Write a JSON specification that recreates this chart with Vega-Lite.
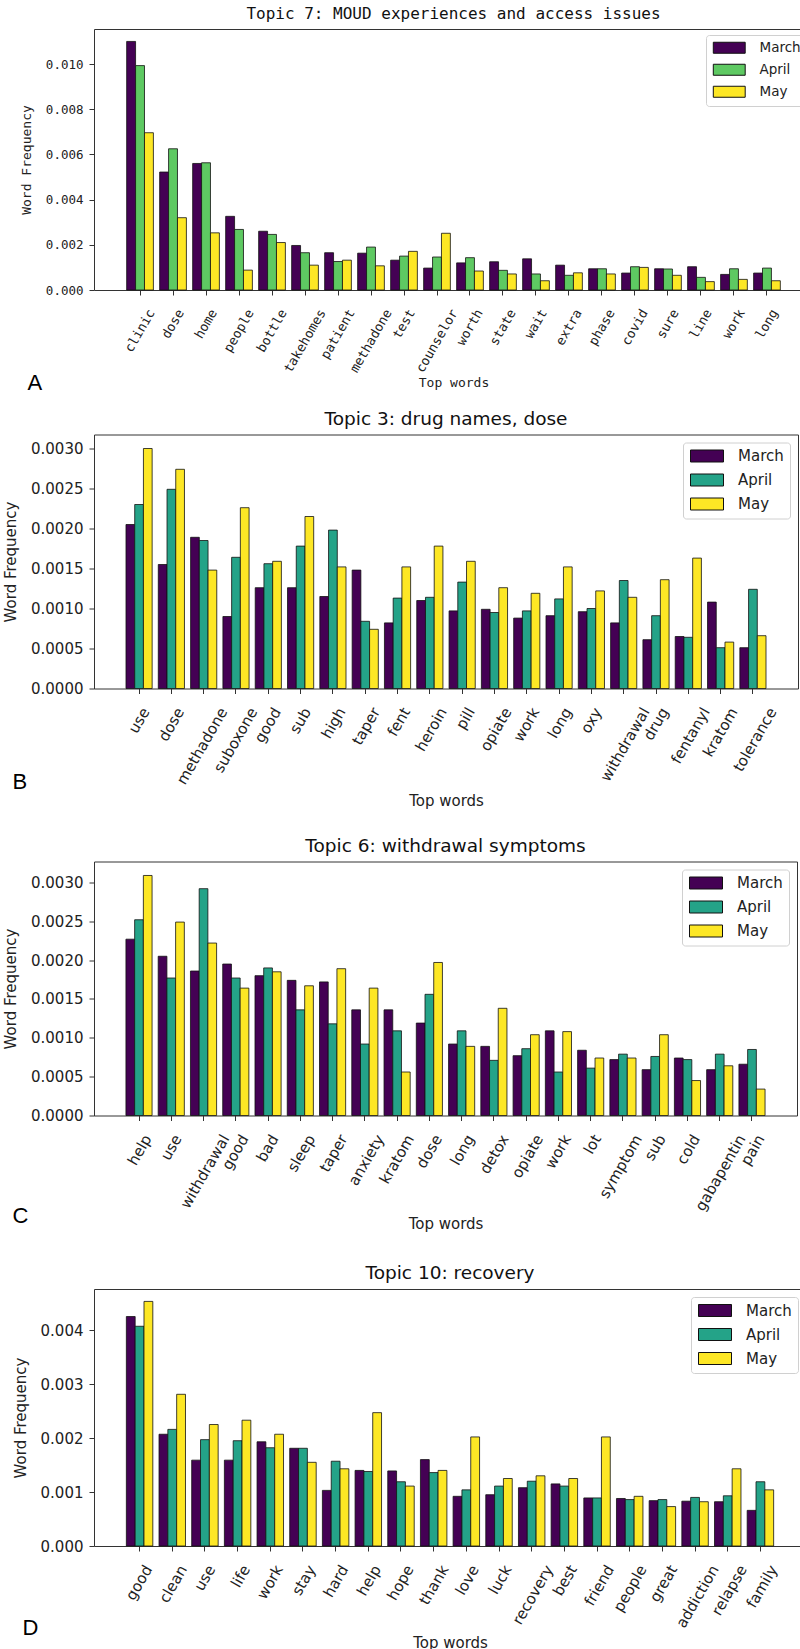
{
  "$schema": "https://vega.github.io/schema/vega-lite/v6.json",
  "padding": {"left": 2, "top": 5, "right": 0, "bottom": 0},
  "spacing": 27.5,
  "config": {
    "view": {"stroke": "#333", "strokeWidth": 1},
    "axis": {"grid": false, "domain": false, "tickColor": "#333", "tickSize": 5, "labelColor": "#222", "titleColor": "#222", "titleFontWeight": "normal"},
    "legend": {"title": null, "orient": "top-right", "symbolStrokeColor": "#111", "symbolStrokeWidth": 1, "symbolOpacity": 1, "strokeColor": "#d0d0d0", "fillColor": "#ffffff", "cornerRadius": 3, "padding": 6, "labelColor": "#222"}
  },
  "resolve": {"scale": {"color": "independent", "x": "independent", "y": "independent", "xOffset": "independent"}, "legend": {"color": "independent"}},
  "vconcat": [
    {
      "spacing": 15.5,
      "resolve": {"scale": {"color": "independent", "x": "independent", "y": "independent", "xOffset": "independent"}, "legend": {"color": "independent"}},
      "vconcat": [
        {
          "title": {"text": "A", "orient": "bottom", "anchor": "start", "frame": "bounds", "offset": -17, "dx": 8, "font": "Liberation Sans", "fontSize": 22, "fontWeight": "normal", "color": "#000"},
          "resolve": {"scale": {"color": "independent", "x": "independent", "y": "independent", "xOffset": "independent"}, "legend": {"color": "independent"}},
          "vconcat": [
            {
              "width": 719, "height": 261,
              "title": {"text": "Topic 7: MOUD experiences and access issues", "font": "DejaVu Sans Mono", "fontSize": 16, "fontWeight": "normal", "frame": "group", "anchor": "middle", "offset": 7, "color": "#111"},
              "data": {"values": [
                {"word":"clinic","month":"March","freq":0.0110},{"word":"clinic","month":"April","freq":0.00993},{"word":"clinic","month":"May","freq":0.00696},
                {"word":"dose","month":"March","freq":0.00522},{"word":"dose","month":"April","freq":0.00625},{"word":"dose","month":"May","freq":0.0032},
                {"word":"home","month":"March","freq":0.0056},{"word":"home","month":"April","freq":0.00563},{"word":"home","month":"May","freq":0.00253},
                {"word":"people","month":"March","freq":0.00326},{"word":"people","month":"April","freq":0.00268},{"word":"people","month":"May","freq":0.00088},
                {"word":"bottle","month":"March","freq":0.0026},{"word":"bottle","month":"April","freq":0.00246},{"word":"bottle","month":"May","freq":0.0021},
                {"word":"takehomes","month":"March","freq":0.00197},{"word":"takehomes","month":"April","freq":0.00165},{"word":"takehomes","month":"May","freq":0.0011},
                {"word":"patient","month":"March","freq":0.00165},{"word":"patient","month":"April","freq":0.00126},{"word":"patient","month":"May","freq":0.00132},
                {"word":"methadone","month":"March","freq":0.00163},{"word":"methadone","month":"April","freq":0.0019},{"word":"methadone","month":"May","freq":0.00107},
                {"word":"test","month":"March","freq":0.00132},{"word":"test","month":"April","freq":0.0015},{"word":"test","month":"May","freq":0.00171},
                {"word":"counselor","month":"March","freq":0.00097},{"word":"counselor","month":"April","freq":0.00146},{"word":"counselor","month":"May","freq":0.00251},
                {"word":"worth","month":"March","freq":0.0012},{"word":"worth","month":"April","freq":0.00143},{"word":"worth","month":"May","freq":0.00084},
                {"word":"state","month":"March","freq":0.00125},{"word":"state","month":"April","freq":0.00087},{"word":"state","month":"May","freq":0.00071},
                {"word":"wait","month":"March","freq":0.00138},{"word":"wait","month":"April","freq":0.00071},{"word":"wait","month":"May","freq":0.00041},
                {"word":"extra","month":"March","freq":0.0011},{"word":"extra","month":"April","freq":0.00065},{"word":"extra","month":"May","freq":0.00076},
                {"word":"phase","month":"March","freq":0.00094},{"word":"phase","month":"April","freq":0.00094},{"word":"phase","month":"May","freq":0.00071},
                {"word":"covid","month":"March","freq":0.00075},{"word":"covid","month":"April","freq":0.00103},{"word":"covid","month":"May","freq":0.001},
                {"word":"sure","month":"March","freq":0.00094},{"word":"sure","month":"April","freq":0.00093},{"word":"sure","month":"May","freq":0.00065},
                {"word":"line","month":"March","freq":0.00103},{"word":"line","month":"April","freq":0.00056},{"word":"line","month":"May","freq":0.00037},
                {"word":"work","month":"March","freq":0.00069},{"word":"work","month":"April","freq":0.00094},{"word":"work","month":"May","freq":0.00047},
                {"word":"long","month":"March","freq":0.00075},{"word":"long","month":"April","freq":0.00097},{"word":"long","month":"May","freq":0.00041}
              ]},
              "mark": {"type": "bar", "stroke": "#111", "strokeWidth": 0.8},
              "encoding": {
                "x": {"field": "word", "type": "nominal", "sort": null, "scale": {"paddingInner": 0.19, "paddingOuter": 0.99},
                  "axis": {"title": "Top words", "titleFont": "DejaVu Sans Mono", "titleFontSize": 13, "titlePadding": 0, "minExtent": 86, "maxExtent": 86, "labelFont": "DejaVu Sans Mono", "labelFontSize": 13, "labelAngle": -60, "labelAlign": "right", "labelBaseline": "middle", "labelPadding": 15, "labelOffset": {"expr": "length(datum.label)*1.96"}, "labelOverlap": false}},
                "xOffset": {"field": "month", "type": "nominal", "sort": ["March", "April", "May"], "scale": {"paddingInner": 0, "paddingOuter": 0}},
                "y": {"field": "freq", "type": "quantitative", "scale": {"domain": [0, 0.01155], "nice": false},
                  "axis": {"title": "Word Frequency", "values": [0, 0.002, 0.004, 0.006, 0.008, 0.010], "format": ".3f", "labelFont": "DejaVu Sans Mono", "labelFontSize": 12.5, "labelPadding": 6, "minExtent": 51, "maxExtent": 51, "titleFont": "DejaVu Sans Mono", "titleFontSize": 13, "titlePadding": 10}},
                "color": {"field": "month", "type": "nominal", "sort": ["March", "April", "May"], "scale": {"domain": ["March", "April", "May"], "range": ["#440154", "#5ec962", "#fde725"]},
                  "legend": {"orient": "top-right", "offset": 6, "symbolType": "M-2.9,-1H2.9V1H-2.9Z", "symbolSize": 121, "symbolOffset": 10.5, "labelFont": "DejaVu Sans", "labelFontSize": 13.5, "labelOffset": 23.5, "rowPadding": 6}}
              }
            }
          ]
        },
        {
          "title": {"text": "B", "orient": "bottom", "anchor": "start", "frame": "bounds", "offset": -37, "dx": 10, "font": "Liberation Sans", "fontSize": 22, "fontWeight": "normal", "color": "#000"},
          "resolve": {"scale": {"color": "independent", "x": "independent", "y": "independent", "xOffset": "independent"}, "legend": {"color": "independent"}},
          "vconcat": [
            {
              "width": 704, "height": 254,
              "title": {"text": "Topic 3: drug names, dose", "font": "DejaVu Sans", "fontSize": 18.5, "fontWeight": "normal", "frame": "group", "anchor": "middle", "offset": 6, "color": "#111"},
              "data": {"values": [
                {"word":"use","month":"March","freq":0.00205},{"word":"use","month":"April","freq":0.0023},{"word":"use","month":"May","freq":0.0030},
                {"word":"dose","month":"March","freq":0.00155},{"word":"dose","month":"April","freq":0.00249},{"word":"dose","month":"May","freq":0.00274},
                {"word":"methadone","month":"March","freq":0.00189},{"word":"methadone","month":"April","freq":0.00185},{"word":"methadone","month":"May","freq":0.00148},
                {"word":"suboxone","month":"March","freq":0.0009},{"word":"suboxone","month":"April","freq":0.00164},{"word":"suboxone","month":"May","freq":0.00226},
                {"word":"good","month":"March","freq":0.00126},{"word":"good","month":"April","freq":0.00156},{"word":"good","month":"May","freq":0.00159},
                {"word":"sub","month":"March","freq":0.00126},{"word":"sub","month":"April","freq":0.00178},{"word":"sub","month":"May","freq":0.00215},
                {"word":"high","month":"March","freq":0.00115},{"word":"high","month":"April","freq":0.00198},{"word":"high","month":"May","freq":0.00152},
                {"word":"taper","month":"March","freq":0.00148},{"word":"taper","month":"April","freq":0.00084},{"word":"taper","month":"May","freq":0.00074},
                {"word":"fent","month":"March","freq":0.00082},{"word":"fent","month":"April","freq":0.00113},{"word":"fent","month":"May","freq":0.00152},
                {"word":"heroin","month":"March","freq":0.0011},{"word":"heroin","month":"April","freq":0.00114},{"word":"heroin","month":"May","freq":0.00178},
                {"word":"pill","month":"March","freq":0.00097},{"word":"pill","month":"April","freq":0.00133},{"word":"pill","month":"May","freq":0.00159},
                {"word":"opiate","month":"March","freq":0.00099},{"word":"opiate","month":"April","freq":0.00095},{"word":"opiate","month":"May","freq":0.00126},
                {"word":"work","month":"March","freq":0.00088},{"word":"work","month":"April","freq":0.00097},{"word":"work","month":"May","freq":0.00119},
                {"word":"long","month":"March","freq":0.00091},{"word":"long","month":"April","freq":0.00112},{"word":"long","month":"May","freq":0.00152},
                {"word":"oxy","month":"March","freq":0.00096},{"word":"oxy","month":"April","freq":0.001},{"word":"oxy","month":"May","freq":0.00122},
                {"word":"withdrawal","month":"March","freq":0.00082},{"word":"withdrawal","month":"April","freq":0.00135},{"word":"withdrawal","month":"May","freq":0.00114},
                {"word":"drug","month":"March","freq":0.00061},{"word":"drug","month":"April","freq":0.00091},{"word":"drug","month":"May","freq":0.00136},
                {"word":"fentanyl","month":"March","freq":0.00065},{"word":"fentanyl","month":"April","freq":0.00064},{"word":"fentanyl","month":"May","freq":0.00163},
                {"word":"kratom","month":"March","freq":0.00108},{"word":"kratom","month":"April","freq":0.00051},{"word":"kratom","month":"May","freq":0.00058},
                {"word":"tolerance","month":"March","freq":0.00051},{"word":"tolerance","month":"April","freq":0.00124},{"word":"tolerance","month":"May","freq":0.00066}
              ]},
              "mark": {"type": "bar", "stroke": "#111", "strokeWidth": 0.8},
              "encoding": {
                "x": {"field": "word", "type": "nominal", "sort": null, "scale": {"paddingInner": 0.19, "paddingOuter": 0.99},
                  "axis": {"title": "Top words", "titleFont": "DejaVu Sans", "titleFontSize": 15, "titlePadding": 0, "minExtent": 105, "maxExtent": 105, "labelFont": "DejaVu Sans", "labelFontSize": 15, "labelAngle": -60, "labelAlign": "right", "labelBaseline": "middle", "labelPadding": 15, "labelOffset": {"expr": "length(datum.label)*2.2"}, "labelOverlap": false}},
                "xOffset": {"field": "month", "type": "nominal", "sort": ["March", "April", "May"], "scale": {"paddingInner": 0, "paddingOuter": 0}},
                "y": {"field": "freq", "type": "quantitative", "scale": {"domain": [0, 0.003175], "nice": false},
                  "axis": {"title": "Word Frequency", "values": [0, 0.0005, 0.001, 0.0015, 0.002, 0.0025, 0.003], "format": ".4f", "labelFont": "DejaVu Sans", "labelFontSize": 15, "labelPadding": 6, "minExtent": 65, "maxExtent": 65, "titleFont": "DejaVu Sans", "titleFontSize": 15, "titlePadding": 11}},
                "color": {"field": "month", "type": "nominal", "sort": ["March", "April", "May"], "scale": {"domain": ["March", "April", "May"], "range": ["#440154", "#24a388", "#fde725"]},
                  "legend": {"orient": "top-right", "offset": 8, "symbolType": "M-2.75,-1H2.75V1H-2.75Z", "symbolSize": 144, "symbolOffset": 10.5, "labelFont": "DejaVu Sans", "labelFontSize": 15, "labelOffset": 23.5, "rowPadding": 7}}
              }
            }
          ]
        }
      ]
    },
    {
      "spacing": 30.5,
      "resolve": {"scale": {"color": "independent", "x": "independent", "y": "independent", "xOffset": "independent"}, "legend": {"color": "independent"}},
      "vconcat": [
        {
          "title": {"text": "C", "orient": "bottom", "anchor": "start", "frame": "bounds", "offset": -26, "dx": 10, "font": "Liberation Sans", "fontSize": 22, "fontWeight": "normal", "color": "#000"},
          "resolve": {"scale": {"color": "independent", "x": "independent", "y": "independent", "xOffset": "independent"}, "legend": {"color": "independent"}},
          "vconcat": [
            {
              "width": 703, "height": 254,
              "title": {"text": "Topic 6: withdrawal symptoms", "font": "DejaVu Sans", "fontSize": 18.5, "fontWeight": "normal", "frame": "group", "anchor": "middle", "offset": 6, "color": "#111"},
              "data": {"values": [
                {"word":"help","month":"March","freq":0.00227},{"word":"help","month":"April","freq":0.00252},{"word":"help","month":"May","freq":0.00309},
                {"word":"use","month":"March","freq":0.00205},{"word":"use","month":"April","freq":0.00177},{"word":"use","month":"May","freq":0.00249},
                {"word":"withdrawal","month":"March","freq":0.00186},{"word":"withdrawal","month":"April","freq":0.00292},{"word":"withdrawal","month":"May","freq":0.00222},
                {"word":"good","month":"March","freq":0.00195},{"word":"good","month":"April","freq":0.00177},{"word":"good","month":"May","freq":0.00164},
                {"word":"bad","month":"March","freq":0.0018},{"word":"bad","month":"April","freq":0.0019},{"word":"bad","month":"May","freq":0.00185},
                {"word":"sleep","month":"March","freq":0.00174},{"word":"sleep","month":"April","freq":0.00136},{"word":"sleep","month":"May","freq":0.00167},
                {"word":"taper","month":"March","freq":0.00172},{"word":"taper","month":"April","freq":0.00118},{"word":"taper","month":"May","freq":0.00189},
                {"word":"anxiety","month":"March","freq":0.00136},{"word":"anxiety","month":"April","freq":0.00092},{"word":"anxiety","month":"May","freq":0.00164},
                {"word":"kratom","month":"March","freq":0.00136},{"word":"kratom","month":"April","freq":0.00109},{"word":"kratom","month":"May","freq":0.00056},
                {"word":"dose","month":"March","freq":0.00119},{"word":"dose","month":"April","freq":0.00156},{"word":"dose","month":"May","freq":0.00197},
                {"word":"long","month":"March","freq":0.00092},{"word":"long","month":"April","freq":0.00109},{"word":"long","month":"May","freq":0.00089},
                {"word":"detox","month":"March","freq":0.00089},{"word":"detox","month":"April","freq":0.00071},{"word":"detox","month":"May","freq":0.00138},
                {"word":"opiate","month":"March","freq":0.00077},{"word":"opiate","month":"April","freq":0.00086},{"word":"opiate","month":"May","freq":0.00104},
                {"word":"work","month":"March","freq":0.00109},{"word":"work","month":"April","freq":0.00056},{"word":"work","month":"May","freq":0.00108},
                {"word":"lot","month":"March","freq":0.00084},{"word":"lot","month":"April","freq":0.00061},{"word":"lot","month":"May","freq":0.00074},
                {"word":"symptom","month":"March","freq":0.00072},{"word":"symptom","month":"April","freq":0.00079},{"word":"symptom","month":"May","freq":0.00074},
                {"word":"sub","month":"March","freq":0.00059},{"word":"sub","month":"April","freq":0.00076},{"word":"sub","month":"May","freq":0.00104},
                {"word":"cold","month":"March","freq":0.00074},{"word":"cold","month":"April","freq":0.00072},{"word":"cold","month":"May","freq":0.00045},
                {"word":"gabapentin","month":"March","freq":0.00059},{"word":"gabapentin","month":"April","freq":0.00079},{"word":"gabapentin","month":"May","freq":0.00064},
                {"word":"pain","month":"March","freq":0.00066},{"word":"pain","month":"April","freq":0.00085},{"word":"pain","month":"May","freq":0.00034}
              ]},
              "mark": {"type": "bar", "stroke": "#111", "strokeWidth": 0.8},
              "encoding": {
                "x": {"field": "word", "type": "nominal", "sort": null, "scale": {"paddingInner": 0.19, "paddingOuter": 0.99},
                  "axis": {"title": "Top words", "titleFont": "DejaVu Sans", "titleFontSize": 15, "titlePadding": 0, "minExtent": 101, "maxExtent": 101, "labelFont": "DejaVu Sans", "labelFontSize": 15, "labelAngle": -60, "labelAlign": "right", "labelBaseline": "middle", "labelPadding": 15, "labelOffset": {"expr": "length(datum.label)*2.2"}, "labelOverlap": false}},
                "xOffset": {"field": "month", "type": "nominal", "sort": ["March", "April", "May"], "scale": {"paddingInner": 0, "paddingOuter": 0}},
                "y": {"field": "freq", "type": "quantitative", "scale": {"domain": [0, 0.00327], "nice": false},
                  "axis": {"title": "Word Frequency", "values": [0, 0.0005, 0.001, 0.0015, 0.002, 0.0025, 0.003], "format": ".4f", "labelFont": "DejaVu Sans", "labelFontSize": 15, "labelPadding": 6, "minExtent": 65, "maxExtent": 65, "titleFont": "DejaVu Sans", "titleFontSize": 15, "titlePadding": 11}},
                "color": {"field": "month", "type": "nominal", "sort": ["March", "April", "May"], "scale": {"domain": ["March", "April", "May"], "range": ["#440154", "#24a388", "#fde725"]},
                  "legend": {"orient": "top-right", "offset": 8, "symbolType": "M-2.75,-1H2.75V1H-2.75Z", "symbolSize": 144, "symbolOffset": 10.5, "labelFont": "DejaVu Sans", "labelFontSize": 15, "labelOffset": 23.5, "rowPadding": 7}}
              }
            }
          ]
        },
        {
          "title": {"text": "D", "orient": "bottom", "anchor": "start", "frame": "bounds", "offset": -33, "dx": 10, "font": "Liberation Sans", "fontSize": 22, "fontWeight": "normal", "color": "#000"},
          "resolve": {"scale": {"color": "independent", "x": "independent", "y": "independent", "xOffset": "independent"}, "legend": {"color": "independent"}},
          "vconcat": [
            {
              "width": 712, "height": 257,
              "title": {"text": "Topic 10: recovery", "font": "DejaVu Sans", "fontSize": 18.5, "fontWeight": "normal", "frame": "group", "anchor": "middle", "offset": 7, "color": "#111"},
              "data": {"values": [
                {"word":"good","month":"March","freq":0.00425},{"word":"good","month":"April","freq":0.00407},{"word":"good","month":"May","freq":0.00453},
                {"word":"clean","month":"March","freq":0.00207},{"word":"clean","month":"April","freq":0.00216},{"word":"clean","month":"May","freq":0.00281},
                {"word":"use","month":"March","freq":0.00159},{"word":"use","month":"April","freq":0.00197},{"word":"use","month":"May","freq":0.00225},
                {"word":"life","month":"March","freq":0.00159},{"word":"life","month":"April","freq":0.00195},{"word":"life","month":"May","freq":0.00233},
                {"word":"work","month":"March","freq":0.00193},{"word":"work","month":"April","freq":0.00182},{"word":"work","month":"May","freq":0.00207},
                {"word":"stay","month":"March","freq":0.00181},{"word":"stay","month":"April","freq":0.00181},{"word":"stay","month":"May","freq":0.00155},
                {"word":"hard","month":"March","freq":0.00103},{"word":"hard","month":"April","freq":0.00157},{"word":"hard","month":"May","freq":0.00143},
                {"word":"help","month":"March","freq":0.0014},{"word":"help","month":"April","freq":0.00138},{"word":"help","month":"May","freq":0.00247},
                {"word":"hope","month":"March","freq":0.00139},{"word":"hope","month":"April","freq":0.00119},{"word":"hope","month":"May","freq":0.00111},
                {"word":"thank","month":"March","freq":0.0016},{"word":"thank","month":"April","freq":0.00136},{"word":"thank","month":"May","freq":0.0014},
                {"word":"love","month":"March","freq":0.00092},{"word":"love","month":"April","freq":0.00104},{"word":"love","month":"May","freq":0.00202},
                {"word":"luck","month":"March","freq":0.00095},{"word":"luck","month":"April","freq":0.00111},{"word":"luck","month":"May","freq":0.00125},
                {"word":"recovery","month":"March","freq":0.00108},{"word":"recovery","month":"April","freq":0.0012},{"word":"recovery","month":"May","freq":0.0013},
                {"word":"best","month":"March","freq":0.00115},{"word":"best","month":"April","freq":0.00111},{"word":"best","month":"May","freq":0.00125},
                {"word":"friend","month":"March","freq":0.00089},{"word":"friend","month":"April","freq":0.00089},{"word":"friend","month":"May","freq":0.00202},
                {"word":"people","month":"March","freq":0.00088},{"word":"people","month":"April","freq":0.00086},{"word":"people","month":"May","freq":0.00092},
                {"word":"great","month":"March","freq":0.00084},{"word":"great","month":"April","freq":0.00086},{"word":"great","month":"May","freq":0.00073},
                {"word":"addiction","month":"March","freq":0.00083},{"word":"addiction","month":"April","freq":0.0009},{"word":"addiction","month":"May","freq":0.00082},
                {"word":"relapse","month":"March","freq":0.00082},{"word":"relapse","month":"April","freq":0.00093},{"word":"relapse","month":"May","freq":0.00143},
                {"word":"family","month":"March","freq":0.00066},{"word":"family","month":"April","freq":0.00119},{"word":"family","month":"May","freq":0.00104}
              ]},
              "mark": {"type": "bar", "stroke": "#111", "strokeWidth": 0.8},
              "encoding": {
                "x": {"field": "word", "type": "nominal", "sort": null, "scale": {"paddingInner": 0.19, "paddingOuter": 0.99},
                  "axis": {"title": "Top words", "titleFont": "DejaVu Sans", "titleFontSize": 15, "titlePadding": 0, "minExtent": 89, "maxExtent": 89, "labelFont": "DejaVu Sans", "labelFontSize": 15, "labelAngle": -60, "labelAlign": "right", "labelBaseline": "middle", "labelPadding": 15, "labelOffset": {"expr": "length(datum.label)*2.2"}, "labelOverlap": false}},
                "xOffset": {"field": "month", "type": "nominal", "sort": ["March", "April", "May"], "scale": {"paddingInner": 0, "paddingOuter": 0}},
                "y": {"field": "freq", "type": "quantitative", "scale": {"domain": [0, 0.00476], "nice": false},
                  "axis": {"title": "Word Frequency", "values": [0, 0.001, 0.002, 0.003, 0.004], "format": ".3f", "labelFont": "DejaVu Sans", "labelFontSize": 15, "labelPadding": 6, "minExtent": 55, "maxExtent": 55, "titleFont": "DejaVu Sans", "titleFontSize": 15, "titlePadding": 11}},
                "color": {"field": "month", "type": "nominal", "sort": ["March", "April", "May"], "scale": {"domain": ["March", "April", "May"], "range": ["#440154", "#24a388", "#fde725"]},
                  "legend": {"orient": "top-right", "offset": 8, "symbolType": "M-2.75,-1H2.75V1H-2.75Z", "symbolSize": 144, "symbolOffset": 10.5, "labelFont": "DejaVu Sans", "labelFontSize": 15, "labelOffset": 23.5, "rowPadding": 7}}
              }
            }
          ]
        }
      ]
    }
  ]
}
